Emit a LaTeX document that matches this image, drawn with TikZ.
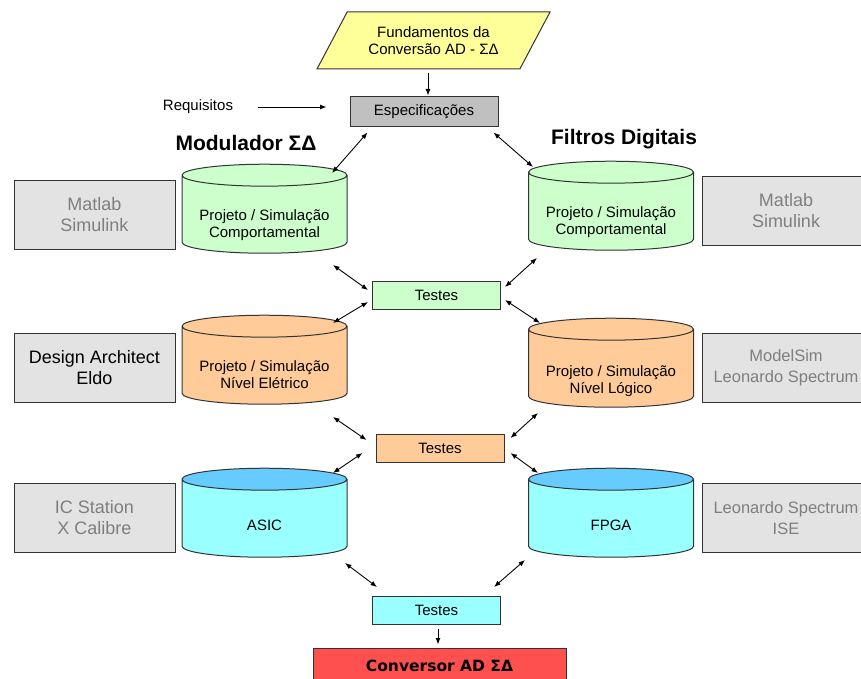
\documentclass[tikz,border=0pt]{standalone}
\usepackage{fontspec}
\setmainfont{Liberation Sans}
\newfontfamily\heavyfont{DejaVu Sans}
\usetikzlibrary{arrows.meta, shapes.geometric}
\definecolor{cgreen}{HTML}{CCFFCC}
\definecolor{corange}{HTML}{FFCC99}
\definecolor{ccyan}{HTML}{99FFFF}
\definecolor{ccyantop}{HTML}{66CCFF}
\definecolor{cgrey}{HTML}{E3E3E3}
\definecolor{cspec}{HTML}{C0C0C0}
\definecolor{cyellow}{HTML}{FFFF99}
\definecolor{cred}{HTML}{FF5050}
\definecolor{cline}{HTML}{333333}
\definecolor{ctext}{HTML}{7F7F7F}
\tikzset{
  every picture/.style={line width=1pt},
  txt/.style={font=\fontsize{15}{17}\selectfont},
  cyl/.style={cylinder, shape border rotate=90, aspect=0.14, text width=150pt, draw=cline, minimum width=165pt, minimum height=89pt},
  db/.style={cyl, fill=#1},
  dbtop/.style={cyl, cylinder uses custom fill, cylinder body fill=ccyan, cylinder end fill=ccyantop},
  dbtext/.style={align=center, txt},
  tool/.style={draw=cline, fill=cgrey, minimum width=161pt, minimum height=69pt, align=center, text=ctext, font=\fontsize{18}{21}\selectfont},
  toolR/.style={tool, minimum width=168pt, font=\fontsize{16.5}{21}\selectfont},
  tst/.style={draw=cline, fill=#1, minimum width=128pt, minimum height=28pt, txt},
  dbl/.style={{Latex[length=6.5pt,width=5pt]}-{Latex[length=6.5pt,width=5pt]}, line width=0.9pt},
  arr/.style={-{Latex[length=6.5pt,width=5pt]}, line width=0.9pt},
  title/.style={font=\fontsize{21}{24}\selectfont\bfseries},
}

\begin{document}
\begin{tikzpicture}[x=1pt, y=-1pt]
  \clip (0,0) rectangle (861,679);
  % top: fundamentals, requirements, specifications
  \node[trapezium, trapezium left angle=49, trapezium right angle=131, trapezium stretches body, draw=cline, fill=cyellow, minimum width=233pt, minimum height=57pt, align=center, txt] (fund) at (433.5,40.5) {Fundamentos da\\Conversão AD - ΣΔ};
  \node[draw=cline, fill=cspec, minimum width=148pt, minimum height=30pt, txt] (esp) at (424,112) {Especificações};
  \node[txt] (req) at (198,107) {Requisitos};
  \draw[arr] ([shift={(-5.5,32.5)}]fund.center) -- ([shift={(4,-1)}]esp.north);
  \draw[arr] ([shift={(21,0)}]req.east) -- ([shift={(-23,-5)}]esp.west);
  \node[title] (titL) at (246,143) {Modulador ΣΔ};
  \node[title] (titR) at (624,139) {Filtros Digitais};
  % design levels, modulator (left) and filters (right)
  \node[db=cgreen] (cylL1) at (264.5,216) {};
  \node[db=cgreen] (cylR1) at (611,213) {};
  \node[db=corange] (cylL2) at (264.5,367) {};
  \node[db=corange] (cylR2) at (611,370) {};
  \node[dbtop] (cylL3) at (264.5,520) {};
  \node[dbtop] (cylR3) at (611,520) {};
  \node[dbtext] (txtL1) at ([shift={(0,9)}]cylL1.center) {Projeto / Simulação\\Comportamental};
  \node[dbtext] (txtR1) at ([shift={(0,9)}]cylR1.center) {Projeto / Simulação\\Comportamental};
  \node[dbtext] (txtL2) at ([shift={(0,8)}]cylL2.center) {Projeto / Simulação\\Nível Elétrico};
  \node[dbtext] (txtR2) at ([shift={(0,11)}]cylR2.center) {Projeto / Simulação\\Nível Lógico};
  \node[dbtext] (txtL3) at ([shift={(0,5)}]cylL3.center) {ASIC};
  \node[dbtext] (txtR3) at ([shift={(0,5)}]cylR3.center) {FPGA};
  % tools
  \node[tool] (toolL1) at (94.5,214.5) {Matlab\\Simulink};
  \node[toolR, font=\fontsize{18}{21}\selectfont] (toolR1) at (786,211) {Matlab\\Simulink};
  \node[tool, text=black] (toolL2) at (94.5,368) {Design Architect\\Eldo};
  \node[toolR] (toolR2) at (786,368) {ModelSim\\Leonardo Spectrum};
  \node[tool] (toolL3) at (94.5,518) {IC Station\\X Calibre};
  \node[toolR] (toolR3) at (786,518) {Leonardo Spectrum\\ISE};
  % tests and result
  \node[tst=cgreen] (tst1) at (436.5,295) {Testes};
  \node[tst=corange] (tst2) at (440,448.5) {Testes};
  \node[tst=ccyan] (tst3) at (436.5,610) {Testes};
  \node[draw=cline, fill=cred, minimum width=253pt, minimum height=36pt, font=\heavyfont\bfseries\fontsize{15.5}{18}\selectfont] (conv) at (439.5,666) {Conversor AD ΣΔ};
  % connections
  \draw[dbl] ([shift={(18,5)}]esp.south west) -- ([shift={(67.5,-43)}]cylL1.center);
  \draw[dbl] ([shift={(-5,5)}]esp.south east) -- ([shift={(-78,-46)}]cylR1.center);
  \draw[dbl] ([shift={(68.5,49)}]cylL1.center) -- ([shift={(-4,-5)}]tst1.west);
  \draw[dbl] ([shift={(-4,7)}]tst1.west) -- ([shift={(68.5,-44)}]cylL2.center);
  \draw[dbl] ([shift={(4,-8)}]tst1.east) -- ([shift={(-74,45)}]cylR1.center);
  \draw[dbl] ([shift={(4,5)}]tst1.east) -- ([shift={(-71,-47)}]cylR2.center);
  \draw[dbl] ([shift={(68.5,50)}]cylL2.center) -- ([shift={(-9,-8.5)}]tst2.west);
  \draw[dbl] ([shift={(-13,4.5)}]tst2.west) -- ([shift={(68.5,-47)}]cylL3.center);
  \draw[dbl] ([shift={(6,-10.5)}]tst2.east) -- ([shift={(-73,43)}]cylR2.center);
  \draw[dbl] ([shift={(6,4.5)}]tst2.east) -- ([shift={(-73,-47)}]cylR3.center);
  \draw[dbl] ([shift={(80.5,43)}]cylL3.center) -- ([shift={(5,-23)}]tst3.west);
  \draw[dbl] ([shift={(-7,-23)}]tst3.east) -- ([shift={(-86,40)}]cylR3.center);
  \draw[arr] ([shift={(1.5,4)}]tst3.south) -- ([shift={(-1.5,-3)}]conv.north);
\end{tikzpicture}
\end{document}
